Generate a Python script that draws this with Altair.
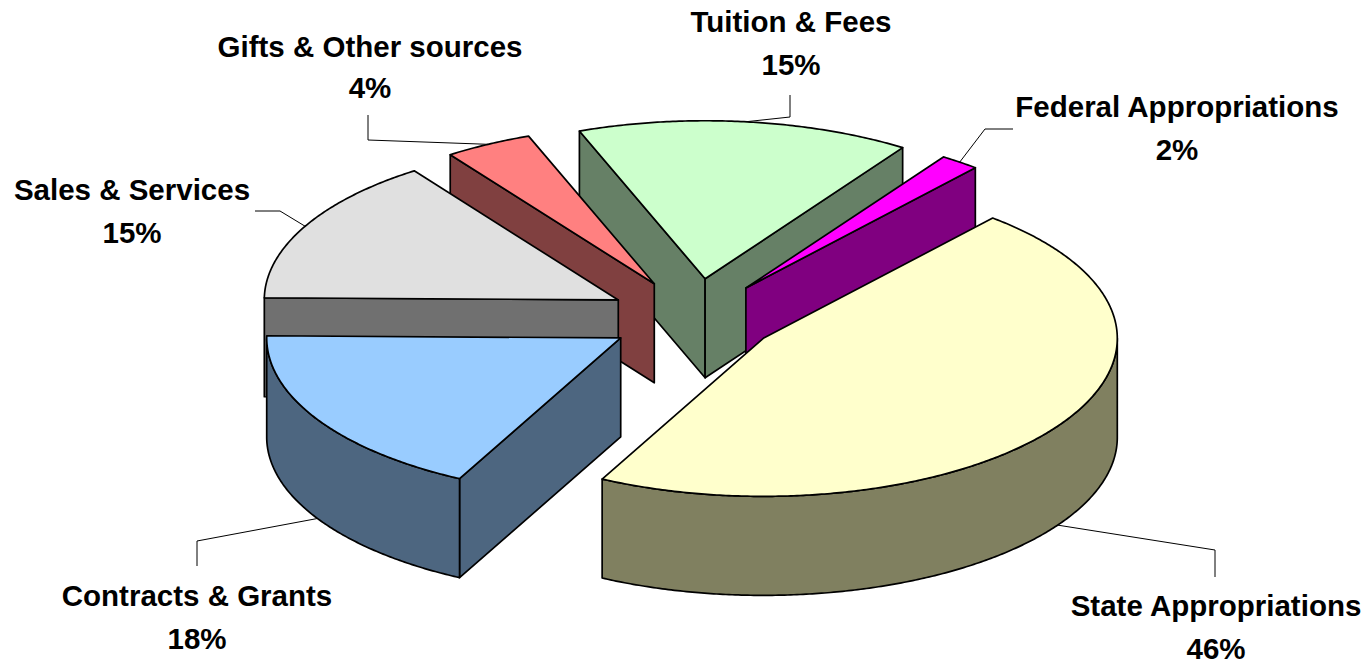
import math
import altair as alt

# Data (clockwise from the first slice)
labels = ["State Appropriations", "Contracts & Grants", "Sales & Services",
          "Gifts & Other sources", "Tuition & Fees", "Federal Appropriations"]
shares = [46.3, 17.7, 15.0, 4.0, 15.2, 1.8]
top_colors = ["#FFFFCC", "#99CCFF", "#E0E0E0", "#FF8080", "#CCFFCC", "#FF00FF"]
side_colors = ["#808060", "#4D6680", "#707070", "#804040", "#668066", "#800080"]

# Layout of the 3-D pie (page pixels)
CX, CY, RX, RY, DEPTH, START = 695, 318, 354, 158, 99, 49.6
explode = [0.232, 0.245, 0.245, 0.245, 0.25, 0.238]
OFF = 8
label_pos = {  # centre x, first-line y, second-line y
    0: (1216, 607, 650), 1: (197, 597, 640), 2: (132, 191, 234),
    3: (370, 48, 89), 4: (791, 23, 66), 5: (1177, 108, 151)}
elbows = {
    0: [(1215, 550), (1215, 577)], 1: [(197, 541), (197, 566)],
    2: [(280, 211), (255, 211)], 3: [(368, 140), (368, 115)],
    4: [(790, 117), (790, 95)], 5: [(985, 129), (1013, 129)]}
draw_order = [4, 5, 3, 2, 1, 0]


def feature(kind, coords, fill=None):
    return {"type": "Feature",
            "geometry": {"type": kind, "coordinates": coords},
            "properties": {"fill": fill}}


def pt(a, ax, ay, dy=0):
    r = math.radians(a)
    return [ax + RX * math.cos(r) - OFF, ay - RY * math.sin(r) + dy - OFF]


slices = []
angle = START
for i, s in enumerate(shares):
    a0, a1 = angle, angle - s * 3.6
    angle = a1
    mid = math.radians((a0 + a1) / 2)
    ax = CX + explode[i] * RX * math.cos(mid)
    ay = CY - explode[i] * RY * math.sin(mid)
    slices.append((a0, a1, ax, ay))

shapes = []
leaders = []
for i in draw_order:
    a0, a1, ax, ay = slices[i]
    apex = [ax - OFF, ay - OFF]
    apex2 = [ax - OFF, ay - OFF + DEPTH]
    steps = max(4, int((a0 - a1) * 2))
    arc = [a0 + (a1 - a0) * k / steps for k in range(steps + 1)]
    # radial walls, only those facing the viewer
    if math.cos(math.radians(a0)) < 0:
        p, q = pt(a0, ax, ay), pt(a0, ax, ay, DEPTH)
        shapes.append(feature("Polygon", [[apex, p, q, apex2, apex]], side_colors[i]))
    if math.cos(math.radians(a1)) > 0:
        p, q = pt(a1, ax, ay), pt(a1, ax, ay, DEPTH)
        shapes.append(feature("Polygon", [[apex, p, q, apex2, apex]], side_colors[i]))
    # rim, only the front part
    front = [a for a in arc if math.sin(math.radians(a)) <= 0.001]
    if len(front) > 1:
        ring = [pt(a, ax, ay) for a in front] + [pt(a, ax, ay, DEPTH) for a in reversed(front)]
        ring.append(ring[0])
        shapes.append(feature("Polygon", [ring], side_colors[i]))
    # top
    ring = [apex] + [pt(a, ax, ay) for a in arc] + [apex]
    shapes.append(feature("Polygon", [ring], top_colors[i]))
    # leader from the slice's rim to the label
    m = (a0 + a1) / 2
    start = pt(m, ax, ay, DEPTH if math.sin(math.radians(m)) < 0 else 0)
    leaders.append(feature("LineString",
                           [start] + [[x - OFF, y - OFF] for x, y in elbows[i]]))

rows = []
for i, name in enumerate(labels):
    x, y1, y2 = label_pos[i]
    rows.append({"x": x - OFF, "y": y1 - OFF, "t": name})
    rows.append({"x": x - OFF, "y": y2 - OFF, "t": f"{round(shares[i])}%"})

proj = dict(type="identity", scale=1, translate=[0, 0])

faces = (alt.Chart(alt.Data(values=shapes))
         .mark_geoshape(stroke="black", strokeWidth=1.7, strokeJoin="round")
         .encode(fill=alt.Fill("properties.fill:N", scale=None))
         .project(**proj))
lines = (alt.Chart(alt.Data(values=leaders))
         .mark_geoshape(filled=False, stroke="black", strokeWidth=1)
         .project(**proj))
texts = (alt.Chart(alt.Data(values=rows))
         .mark_text(font="Liberation Sans", fontWeight="bold", fontSize=29.5,
                    color="black", align="center", baseline="middle")
         .encode(x=alt.X("x:Q", scale=None, axis=None),
                 y=alt.Y("y:Q", scale=None, axis=None),
                 text="t:N"))

chart = (alt.layer(lines, faces, texts)
         .properties(width=1354, height=652, padding=0, background="white",
                     autosize=alt.AutoSizeParams(type="none"))
         .configure_view(stroke=None))

chart.save("out.html", embed_options={"renderer": "svg", "actions": False})
